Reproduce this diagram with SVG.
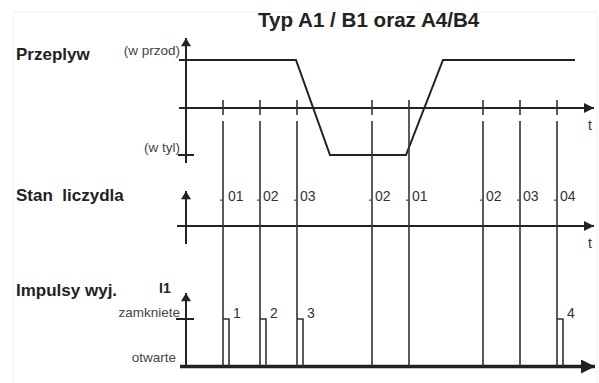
<svg xmlns="http://www.w3.org/2000/svg" width="599" height="383" viewBox="0 0 599 383">
<defs>
<marker id="ah" viewBox="0 0 10 10" refX="10" refY="5" markerWidth="10" markerHeight="10" markerUnits="userSpaceOnUse" orient="auto">
<path d="M0,0 L10,5 L0,10 Z" fill="#222"/>
</marker>
<marker id="ahv" viewBox="0 0 10 12" refX="10" refY="6" markerWidth="12" markerHeight="10" markerUnits="userSpaceOnUse" orient="auto">
<path d="M0,0 L10,6 L0,12 Z" fill="#222"/>
</marker>
<marker id="ahb" viewBox="0 0 14 14" refX="14" refY="7" markerWidth="14" markerHeight="14" markerUnits="userSpaceOnUse" orient="auto">
<path d="M0,0 L14,7 L0,14 Z" fill="#222"/>
</marker>
</defs>
<style>
.ax{stroke:#222;stroke-width:2;fill:none}
.ln{stroke:#333;stroke-width:1.6;fill:none}
.bold{font-family:"Liberation Sans",Arial,sans-serif;font-weight:bold;fill:#222}
.sm{font-family:"Liberation Sans",Arial,sans-serif;font-size:13.5px;fill:#444}
.lb{font-family:"Liberation Sans",Arial,sans-serif;font-size:14px;fill:#333}
</style>
<rect width="599" height="383" fill="#fff"/>
<rect x="13" y="12" width="584" height="372" fill="none" stroke="#f2f2f2" stroke-width="1"/>

<g id="title"><text class="bold" x="258" y="27" font-size="20.6">Typ A1 / B1 oraz A4/B4</text></g>

<g id="przeplyw">
<text class="bold" x="16" y="60" font-size="17">Przeplyw</text>
<text class="sm" x="180" y="55" text-anchor="end">(w przod)</text>
<text class="sm" x="180" y="152" text-anchor="end">(w tyl)</text>
<path class="ax" d="M186,163 V38" marker-end="url(#ahv)"/>
<path class="ax" d="M179,108 H594" marker-end="url(#ah)"/>
<path class="ax" d="M179,60 H193 M178,155 H194"/>
<text class="lb" x="588" y="130">t</text>
<path class="ax" d="M186,60 H296 L330,155 H406 L443,60 H575"/>
</g>

<g id="stan">
<text class="bold" x="16" y="201" font-size="17" style="white-space:pre">Stan  liczydla</text>
<path class="ax" d="M186,244 V191" marker-end="url(#ahv)"/>
<path class="ax" d="M177,226 H594" marker-end="url(#ah)"/>
<text class="lb" x="588" y="248">t</text>
<text class="lb" x="219" y="201">.<tspan dx="5">01</tspan></text>
<text class="lb" x="256" y="201">.<tspan dx="3">02</tspan></text>
<text class="lb" x="293" y="201">.<tspan dx="3">03</tspan></text>
<text class="lb" x="368" y="201">.<tspan dx="3">02</tspan></text>
<text class="lb" x="405" y="201">.<tspan dx="3">01</tspan></text>
<text class="lb" x="479" y="201">.<tspan dx="3">02</tspan></text>
<text class="lb" x="516" y="201">.<tspan dx="3">03</tspan></text>
<text class="lb" x="553" y="201">.<tspan dx="3">04</tspan></text>
</g>

<g id="impulsy">
<text class="bold" x="16" y="296" font-size="17">Impulsy wyj.</text>
<text class="bold" x="159" y="293" font-size="14">I1</text>
<text class="sm" x="180" y="317" text-anchor="end">zamkniete</text>
<text class="sm" x="176" y="362" text-anchor="end">otwarte</text>
<path class="ax" d="M186,366 V293" marker-end="url(#ahv)"/>
<path class="ax" d="M176,319 H194"/>
<path d="M180,366.5 H595" stroke="#222" stroke-width="3.5" fill="none" marker-end="url(#ahb)"/>
<text class="lb" x="233" y="318">1</text>
<text class="lb" x="270" y="318">2</text>
<text class="lb" x="307" y="318">3</text>
<text class="lb" x="567" y="318">4</text>
</g>

<g id="connectors">
<path class="ln" d="M223,100 V115 M223,121 V366"/>
<path class="ln" d="M260,100 V115 M260,121 V366"/>
<path class="ln" d="M297,100 V115 M297,121 V366"/>
<path class="ln" d="M372,100 V115 M372,121 V366"/>
<path class="ln" d="M409,100 V366"/>
<path class="ln" d="M483,100 V115 M483,121 V366"/>
<path class="ln" d="M520,100 V115 M520,121 V366"/>
<path class="ln" d="M557,100 V115 M557,121 V366"/>
<path class="ln" d="M229,366 V319 H223 M266,366 V319 H260 M303,366 V319 H297 M563,366 V319 H557"/>
</g>
</svg>
